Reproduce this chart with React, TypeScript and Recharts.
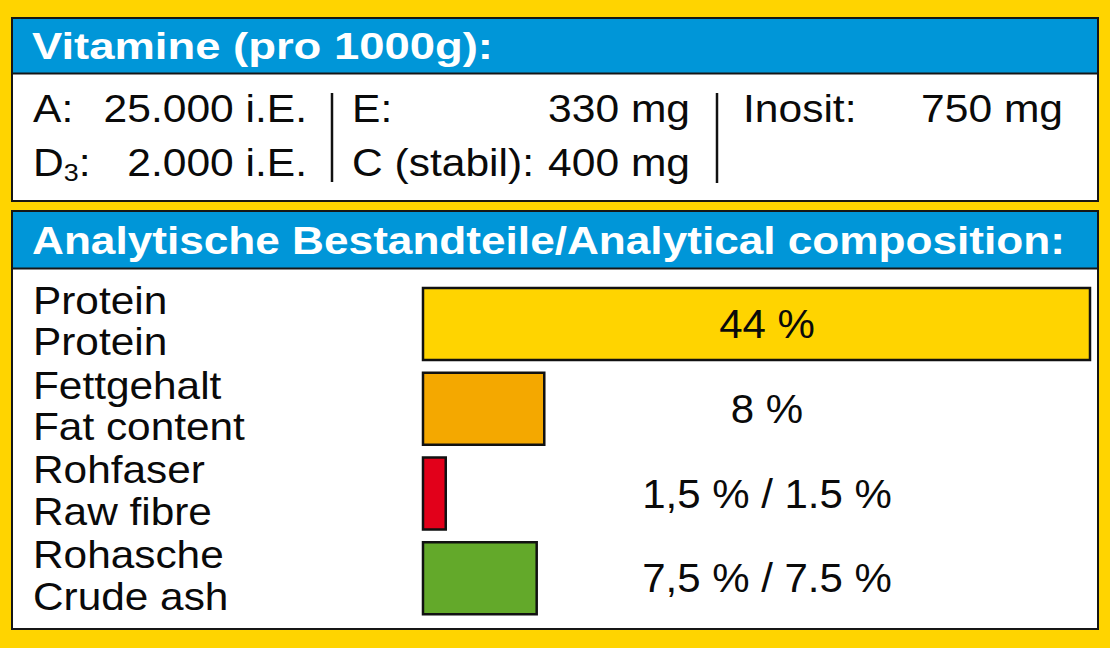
import React from 'react';
import { BarChart, Bar, XAxis, YAxis, Cell, LabelList } from 'recharts';

// ---------- data ----------
const vitaminTitle = 'Vitamine (pro 1000g):';
const analysisTitle = 'Analytische Bestandteile/Analytical composition:';

const categoriesDe = ['Protein', 'Fettgehalt', 'Rohfaser', 'Rohasche'];
const categoriesEn = ['Protein', 'Fat content', 'Raw fibre', 'Crude ash'];
const percentValues = [44, 8, 1.5, 7.5];
const valueLabels = ['44 %', '8 %', '1,5 % / 1.5 %', '7,5 % / 7.5 %'];
const barColors = ['#FFD400', '#F4A800', '#E2001A', '#63A92A'];

// ---------- styles ----------
const YELLOW = '#FFD400';
const BLUE = '#0096D8';
const DARK = '#161616';
const FONT = '"Liberation Sans", Arial, Helvetica, sans-serif';

const chartData = categoriesDe.map((de, i) => ({
  key: de + '|' + categoriesEn[i],
  de,
  en: categoriesEn[i],
  value: percentValues[i],
  label: valueLabels[i],
}));

const CHART_LEFT = 12;
const CHART_TOP = 270;
const LABEL_X = 33 - CHART_LEFT;
const VALUE_CENTER_X = 767 - CHART_LEFT;

const CategoryTick = (props: any) => {
  const { y, index } = props;
  const i = typeof index === 'number' ? index : 0;
  return (
    <g>
      <text
        transform={`translate(${LABEL_X},${y - 10.5}) scale(1.1,1)`}
        fontFamily={FONT}
        fontSize={38.5}
        fill="#0a0a0a"
      >
        {categoriesDe[i]}
      </text>
      <text
        transform={`translate(${LABEL_X},${y + 31}) scale(1.1,1)`}
        fontFamily={FONT}
        fontSize={38.5}
        fill="#0a0a0a"
      >
        {categoriesEn[i]}
      </text>
    </g>
  );
};

const renderValueLabel = (props: any) => {
  const { y, height, index } = props;
  return (
    <text
      transform={`translate(${VALUE_CENTER_X},${Number(y) + Number(height) / 2 + 14}) scale(1.05,1)`}
      textAnchor="middle"
      fontFamily={FONT}
      fontSize={40}
      fill="#0a0a0a"
    >
      {valueLabels[index]}
    </text>
  );
};

const VText = (p: { x: number; y: number; anchor?: 'start' | 'end'; children: React.ReactNode }) => (
  <text
    transform={`translate(${p.x},${p.y}) scale(1.12,1)`}
    textAnchor={p.anchor || 'start'}
    fontFamily={FONT}
    fontSize={38}
    fill="#0a0a0a"
  >
    {p.children}
  </text>
);

export default function App() {
  return (
    <div
      style={{
        position: 'absolute',
        left: 0,
        top: 0,
        width: 1110,
        height: 648,
        background: YELLOW,
        overflow: 'hidden',
      }}
    >
      <svg width={1110} height={648} style={{ position: 'absolute', left: 0, top: 0 }}>
        {/* top box */}
        <rect x={12} y={18} width={1086} height={183} fill="#fff" stroke={DARK} strokeWidth={2} />
        <rect x={13} y={19} width={1084} height={54} fill={BLUE} />
        <line x1={12} x2={1098} y1={73.5} y2={73.5} stroke={DARK} strokeWidth={2} />
        <text
          x={32}
          y={59}
          fontFamily={FONT}
          fontWeight="bold"
          fontSize={37}
          fill="#fff"
          textLength={461}
          lengthAdjust="spacingAndGlyphs"
        >
          {vitaminTitle}
        </text>

        <VText x={33} y={122}>A:</VText>
        <VText x={307} y={122} anchor="end">25.000 i.E.</VText>
        <text transform="translate(33,176) scale(1.12,1)" fontFamily={FONT} fontSize={38} fill="#0a0a0a">
          D<tspan fontSize={24} dy={5}>3</tspan>
          <tspan dy={-5}>:</tspan>
        </text>
        <VText x={307} y={176} anchor="end">2.000 i.E.</VText>

        <line x1={332} x2={332} y1={93} y2={182} stroke="#111" strokeWidth={2.5} />
        <VText x={352} y={122}>E:</VText>
        <VText x={690} y={122} anchor="end">330 mg</VText>
        <VText x={352} y={176}>C (stabil):</VText>
        <VText x={690} y={176} anchor="end">400 mg</VText>

        <line x1={717} x2={717} y1={93} y2={183} stroke="#111" strokeWidth={2.5} />
        <VText x={743} y={122}>Inosit:</VText>
        <VText x={1063} y={122} anchor="end">750 mg</VText>

        {/* bottom box */}
        <rect x={12} y={211} width={1086} height={418} fill="#fff" stroke={DARK} strokeWidth={2} />
        <rect x={13} y={212} width={1084} height={56} fill={BLUE} />
        <line x1={12} x2={1098} y1={268.5} y2={268.5} stroke={DARK} strokeWidth={2} />
        <text
          x={32}
          y={254}
          fontFamily={FONT}
          fontWeight="bold"
          fontSize={38}
          fill="#fff"
          textLength={1033}
          lengthAdjust="spacingAndGlyphs"
        >
          {analysisTitle}
        </text>
      </svg>

      <div style={{ position: 'absolute', left: CHART_LEFT, top: CHART_TOP }}>
        <BarChart
          width={1086}
          height={358}
          data={chartData}
          layout="vertical"
          margin={{ top: 12, right: 8, bottom: 7, left: 0 }}
          barCategoryGap={0}
        >
          <XAxis type="number" domain={[0, 44]} hide />
          <YAxis
            type="category"
            dataKey="key"
            width={411}
            axisLine={false}
            tickLine={false}
            interval={0}
            tick={<CategoryTick />}
          />
          <Bar dataKey="value" barSize={72} stroke="#111" strokeWidth={2.5} isAnimationActive={false}>
            {chartData.map((d, i) => (
              <Cell key={d.key} fill={barColors[i]} />
            ))}
            <LabelList dataKey="label" content={renderValueLabel} />
          </Bar>
        </BarChart>
      </div>
    </div>
  );
}
